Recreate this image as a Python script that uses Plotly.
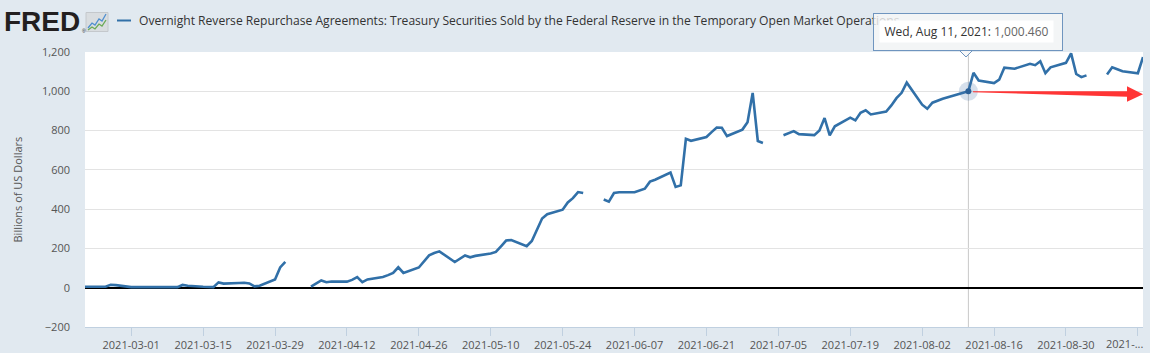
import plotly.graph_objects as go

# ---------------- data (billions of US dollars) ----------------
feb_days = [19, 22, 23, 24, 25, 26]
feb_vals = [5, 4, 5, 5, 15, 13]

mar_days = [1, 2, 3, 4, 5, 8, 9, 10, 11, 12, 15, 16, 17, 18, 19, 22, 23, 24, 25, 26, 29, 30, 31]
mar_vals = [3, 3, 2, 3, 2, 2, 2, 3, 14, 10, 5, 4, 3, 27, 21, 24, 25, 22, 7, 10, 42, 103, 131]

apr_days = [1, 2, 5, 6, 7, 8, 9, 12, 13, 14, 15, 16, 19, 20, 21, 22, 23, 26, 27, 28, 29, 30]
apr_vals = [None, None, 5, 22, 37, 28, 32, 31, 40, 54, 28, 42, 55, 64, 75, 104, 75, 103, 137, 165, 177, 185]

may_days = [3, 4, 5, 6, 7, 10, 11, 12, 13, 14, 17, 18, 19, 20, 21, 24, 25, 26, 27, 28, 31]
may_vals = [131, 148, 164, 155, 162, 174, 182, 211, 240, 243, 211, 238, 296, 352, 374, 397, 434, 456, 487, 482, None]

jun_days = [1, 2, 3, 4, 7, 8, 9, 10, 11, 14, 15, 16, 17, 18, 21, 22, 23, 24, 25, 28, 29, 30]
jun_vals = [449, 438, 482, 486, 486, 495, 504, 540, 550, 586, 513, 521, 758, 748, 767, 792, 815, 814, 772, 805, 843, 991.9]

jul_days = [1, 2, 5, 6, 7, 8, 9, 12, 13, 14, 15, 16, 19, 20, 21, 22, 23, 26, 27, 28, 29, 30]
jul_vals = [747, 737, None, 776, 786, 797, 782, 777, 801, 864, 776, 822, 866, 852, 891, 903, 882, 897, 928, 965, 992, 1044]

aug_days = [2, 3, 4, 5, 6, 9, 10, 11, 12, 13, 16, 17, 18, 19, 20, 23, 24, 25, 26, 27, 30, 31]
aug_vals = [932, 911, 942, 954, 962, 985, 993, 1000.46, 1094, 1055, 1042, 1059, 1120, 1117, 1115, 1140, 1133, 1153, 1092, 1122, 1145, 1193]

sep_days = [1, 2, 3, 6, 7, 8, 9, 10, 13, 14]
sep_vals = [1088, 1072, 1081, None, 1086, 1122, 1112, 1102, 1092, 1174]

tick_dates = ["2021-03-01", "2021-03-15", "2021-03-29", "2021-04-12", "2021-04-26",
              "2021-05-10", "2021-05-24", "2021-06-07", "2021-06-21", "2021-07-05",
              "2021-07-19", "2021-08-02", "2021-08-16", "2021-08-30", "2021-09-13"]
tick_labels = ["2021-03-01", "2021-03-15", "2021-03-29", "2021-04-12", "2021-04-26",
               "2021-05-10", "2021-05-24", "2021-06-07", "2021-06-21", "2021-07-05",
               "2021-07-19", "2021-08-02", "2021-08-16", "2021-08-30", "2021-..."]

y_ticks = [-200, 0, 200, 400, 600, 800, 1000, 1200]

series_name = ("Overnight Reverse Repurchase Agreements: Treasury Securities Sold by the "
               "Federal Reserve in the Temporary Open Market Operations")
hover_date = "2021-08-11"
hover_label = "Wed, Aug 11, 2021:"

# ---------------- assemble ----------------
months = [(2, feb_days, feb_vals), (3, mar_days, mar_vals), (4, apr_days, apr_vals),
          (5, may_days, may_vals), (6, jun_days, jun_vals), (7, jul_days, jul_vals),
          (8, aug_days, aug_vals), (9, sep_days, sep_vals)]
dates, values = [], []
for m, days, vals in months:
    for d, v in zip(days, vals):
        dates.append(f"2021-{m:02d}-{d:02d}")
        values.append(v)
hover_val = values[dates.index(hover_date)]

LINE = "#3170A8"
BG = "#E1E9F0"
TXT = "#555555"

# plot-area geometry in pixels (for decorations only)
L, R, T, B = 85, 1143, 52, 327
def px(x):
    return (x - L) / (R - L)
def py(y):
    return (B - y) / (B - T)

fig = go.Figure()
fig.add_trace(go.Scatter(x=dates, y=values, mode="lines", connectgaps=False,
                         line=dict(color=LINE, width=2.6), hoverinfo="skip"))
fig.add_trace(go.Scatter(x=[hover_date], y=[hover_val], mode="markers",
                         marker=dict(size=19, color="rgba(69,114,167,0.22)"), hoverinfo="skip"))
fig.add_trace(go.Scatter(x=[hover_date], y=[hover_val], mode="markers",
                         marker=dict(size=6, color="#2A5F96"), hoverinfo="skip"))

shapes = []
# crosshair
shapes.append(dict(type="line", xref="x", yref="paper", x0=hover_date, x1=hover_date,
                   y0=0, y1=1, line=dict(color="#C8C8C8", width=1), layer="below"))
# red arrow (tapered)
ax0, ay0 = 973, 91.7
pts = [(ax0, ay0 - 0.5), (1127, 91.2), (1127, 86.2), (1143, 94.2), (1127, 101.8), (1127, 96.8), (ax0, ay0 + 0.6)]
path = "M " + " L ".join(f"{px(x):.5f},{py(y):.5f}" for x, y in pts) + " Z"
shapes.append(dict(type="path", xref="paper", yref="paper", path=path,
                   fillcolor="#FF3535", line=dict(width=0), layer="above"))
# tooltip pointer
tri = [(960, 51.0), (966, 57.0), (972, 51.0)]
shapes.append(dict(type="path", xref="paper", yref="paper",
                   path="M " + " L ".join(f"{px(x):.5f},{py(y):.5f}" for x, y in tri),
                   fillcolor="rgba(247,247,247,0.9)", line=dict(color="#6F95BF", width=1), layer="above"))
# legend swatch
shapes.append(dict(type="line", xref="paper", yref="paper", x0=px(117), x1=px(131),
                   y0=py(20.5), y1=py(20.5), line=dict(color=LINE, width=2)))
# FRED icon
shapes.append(dict(type="rect", xref="paper", yref="paper", x0=px(86), x1=px(108),
                   y0=py(31.5), y1=py(12.5), fillcolor="#D9DDE0", line=dict(color="#C4C8CC", width=1)))
blue_pts = [(88, 28), (92, 23), (95, 25), (99, 19), (102, 21), (106, 14)]
green_pts = [(88, 30), (92, 27), (95, 29), (99, 24), (102, 26), (106, 20)]
for p, c in [(blue_pts, "#4F8FCF"), (green_pts, "#6BAA55")]:
    shapes.append(dict(type="path", xref="paper", yref="paper",
                       path="M " + " L ".join(f"{px(x):.5f},{py(y):.5f}" for x, y in p),
                       line=dict(color=c, width=1.3)))

annotations = [
    dict(text="<b>FRED</b>", x=px(2), y=py(22), xref="paper", yref="paper", xanchor="left",
         yanchor="middle", showarrow=False, font=dict(family="Liberation Sans", size=28, color="#231F20")),
    dict(text="®", x=px(80), y=py(31), xref="paper", yref="paper", xanchor="left", yanchor="middle",
         showarrow=False, font=dict(family="Liberation Sans", size=5, color="#231F20")),
    dict(text=series_name, x=px(137), y=py(21), xref="paper", yref="paper", xanchor="left",
         yanchor="middle", showarrow=False, font=dict(family="Open Sans", size=12.1, color="#333333")),
    dict(text="Billions of US Dollars", x=px(17), y=0.5, xref="paper", yref="paper",
         xanchor="center", yanchor="middle", textangle=-90, showarrow=False,
         font=dict(family="Open Sans", size=11, color=TXT)),
    # last (shortened) x tick label, shifted to stay inside the page
    dict(text=tick_labels[-1], x=px(1124), y=py(343), xref="paper", yref="paper",
         xanchor="center", yanchor="middle", showarrow=False,
         font=dict(family="Open Sans", size=11, color=TXT)),
    # tooltip box
    dict(text=" ", x=px(968), y=py(32), xref="paper", yref="paper", xanchor="center",
         yanchor="middle", showarrow=False, width=188, height=36, borderpad=0,
         bgcolor="rgba(247,247,247,0.8)", bordercolor="#6F95BF", borderwidth=1),
    dict(text=f"{hover_label} <span style='color:#666666'>{hover_val:,.3f}</span>",
         x=px(966.5), y=py(31.2), xref="paper", yref="paper", xanchor="center", yanchor="middle",
         showarrow=False, width=173, height=21, borderpad=0, bgcolor="#FFFFFF",
         font=dict(family="Open Sans", size=12, color="#333333")),
]

fig.update_layout(
    width=1150, height=353,
    margin=dict(l=L, r=1150 - R, t=T, b=353 - B, pad=0, autoexpand=False),
    paper_bgcolor=BG, plot_bgcolor="#FFFFFF",
    showlegend=False, hovermode=False,
    shapes=shapes, annotations=annotations,
    xaxis=dict(type="date", range=["2021-02-20", "2021-09-14"], tickvals=tick_dates,
               ticktext=tick_labels[:-1] + [""], showgrid=False, ticks="outside", ticklen=8,
               tickcolor="#C0D0E0", showline=True, linecolor="#C0D0E0", linewidth=1,
               zeroline=False, automargin=False,
               tickfont=dict(family="Open Sans", size=11, color=TXT)),
    yaxis=dict(range=[-200, 1200], tickvals=y_ticks, tickformat=",", showgrid=True,
               gridcolor="#E3E3E3", gridwidth=1, zeroline=True, zerolinecolor="#000000",
               zerolinewidth=2, ticks="", ticklabelstandoff=14, showline=False, automargin=False,
               tickfont=dict(family="Open Sans", size=11, color=TXT)),
)

fig.write_html("out.html")
